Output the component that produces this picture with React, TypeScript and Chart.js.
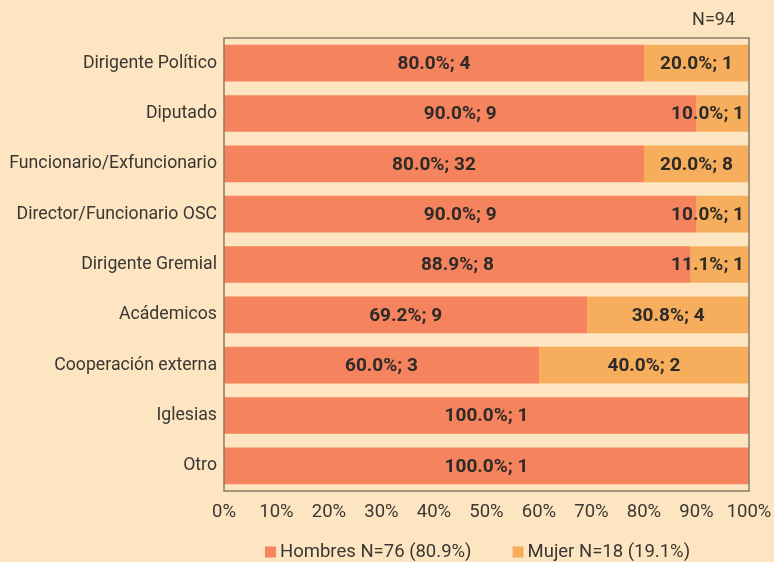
import React, { useEffect, useRef } from "react";
import { Chart, registerables } from "chart.js";

Chart.register(...registerables);

const categories = [
  "Dirigente Político",
  "Diputado",
  "Funcionario/Exfuncionario",
  "Director/Funcionario OSC",
  "Dirigente Gremial",
  "Acádemicos",
  "Cooperación externa",
  "Iglesias",
  "Otro",
];
const hombresPct = [80.0, 90.0, 80.0, 90.0, 88.9, 69.2, 60.0, 100.0, 100.0];
const mujerPct = [20.0, 10.0, 20.0, 10.0, 11.1, 30.8, 40.0, 0, 0];
const hombresN = [4, 9, 32, 9, 8, 9, 3, 1, 1];
const mujerN = [1, 1, 8, 1, 1, 4, 2, 0, 0];
const seriesLabels = ["Hombres N=76 (80.9%)", "Mujer N=18 (19.1%)"];
const totalLabel = "N=94";
const xTicks = [0, 10, 20, 30, 40, 50, 60, 70, 80, 90, 100];

const BG = "#fce5c0";
const RED = "#f5835d";
const ORANGE = "#f6ae5c";
const TEXT = "#2d2a27";
const AXIS_TEXT = "#3a3633";
const FONT = "Roboto, 'Noto Sans', sans-serif";

export default function App() {
  const ref = useRef<HTMLCanvasElement | null>(null);

  useEffect(() => {
    if (!ref.current) return;
    const counts = [hombresN, mujerN];

    const labelPlugin = {
      id: "segLabels",
      afterDatasetsDraw(chart: any) {
        const { ctx, chartArea } = chart;
        ctx.save();
        ctx.font = `bold 19px ${FONT}`;
        ctx.fillStyle = TEXT;
        ctx.textBaseline = "middle";
        ctx.textAlign = "left";
        chart.data.datasets.forEach((ds: any, di: number) => {
          const meta = chart.getDatasetMeta(di);
          meta.data.forEach((bar: any, i: number) => {
            const v = ds.data[i];
            if (!v) return;
            const txt = `${v.toFixed(1)}%; ${counts[di][i]}`;
            const w = ctx.measureText(txt).width;
            const cx = (bar.base + bar.x) / 2;
            let x0 = cx - w / 2;
            if (x0 + w > chartArea.right - 5) x0 = chartArea.right - 5 - w;
            ctx.fillText(txt, x0, bar.y + 1);
          });
        });
        // frame
        ctx.strokeStyle = "#8a7b6a";
        ctx.lineWidth = 1.5;
        ctx.strokeRect(chartArea.left, chartArea.top, chartArea.right - chartArea.left, chartArea.bottom - chartArea.top);
        // N label
        ctx.font = `18px ${FONT}`;
        ctx.fillStyle = AXIS_TEXT;
        ctx.textAlign = "right";
        ctx.fillText(totalLabel, chartArea.right - 14, 20);
        // legend
        ctx.font = `18.5px ${FONT}`;
        ctx.textAlign = "left";
        let x = chartArea.left + 41;
        const y = 552;
        chart.data.datasets.forEach((ds: any) => {
          ctx.fillStyle = ds.backgroundColor;
          ctx.fillRect(x, y - 5.5, 11, 11);
          x += 15;
          ctx.fillStyle = AXIS_TEXT;
          ctx.fillText(ds.label, x, y);
          x += ctx.measureText(ds.label).width + 41;
        });
        ctx.restore();
      },
    };

    const chart = new Chart(ref.current, {
      type: "bar",
      data: {
        labels: categories,
        datasets: [
          { label: seriesLabels[0], data: hombresPct, backgroundColor: RED, borderWidth: 0 },
          { label: seriesLabels[1], data: mujerPct, backgroundColor: ORANGE, borderWidth: 0 },
        ],
      },
      options: {
        indexAxis: "y",
        animation: false,
        responsive: false,
        maintainAspectRatio: false,
        layout: { padding: { top: 38, right: 0, left: 0, bottom: 31 } },
        datasets: { bar: { categoryPercentage: 1, barPercentage: 0.73 } },
        plugins: {
          tooltip: { enabled: false },
          legend: { display: false },
        },
        scales: {
          x: {
            stacked: true,
            min: 0,
            max: 100,
            afterBuildTicks: (scale: any) => {
              scale.ticks = xTicks.map((v) => ({ value: v }));
            },
            afterFit: (scale: any) => {
              scale.height = 40;
              scale.paddingLeft = 0;
              scale.paddingRight = 25;
            },
            ticks: {
              font: { family: FONT, size: 18.5 },
              color: AXIS_TEXT,
              padding: 10,
              maxRotation: 0,
              autoSkip: false,
              callback: (v: any) => `${v}%`,
            },
            grid: { display: false, drawTicks: false },
            border: { display: false },
          },
          y: {
            stacked: true,
            afterFit: (scale: any) => {
              scale.width = 224;
            },
            ticks: {
              font: { family: FONT, size: 17.7 },
              color: AXIS_TEXT,
              padding: 7,
            },
            grid: { display: false, drawTicks: false },
            border: { display: false },
          },
        },
      },
      plugins: [labelPlugin],
    });
    return () => chart.destroy();
  }, []);

  return (
    <div style={{ position: "absolute", left: 0, top: 0, width: 774, height: 562, background: BG }}>
      <canvas ref={ref} width={774} height={562} style={{ display: "block" }} />
    </div>
  );
}
